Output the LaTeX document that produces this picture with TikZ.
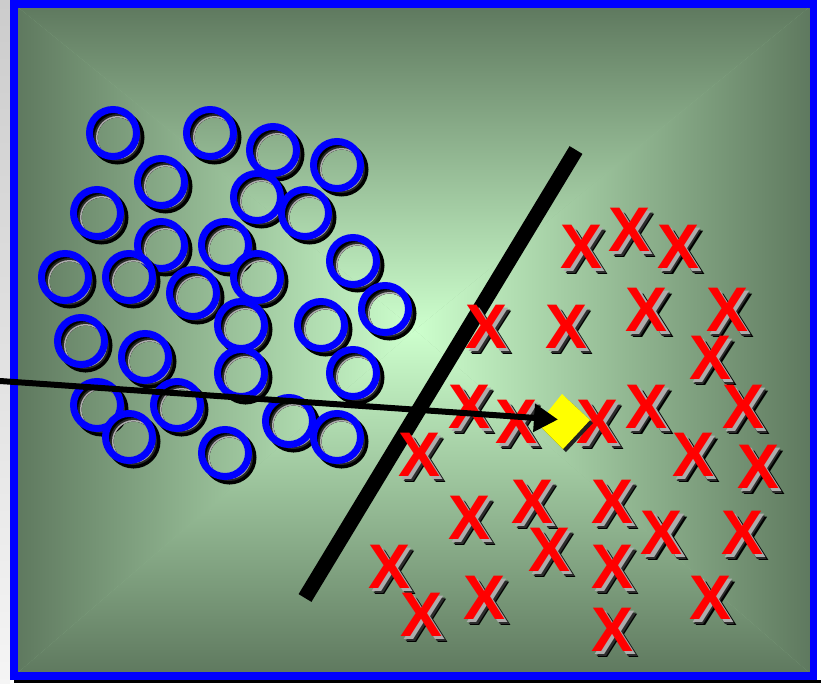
\documentclass[tikz,border=0pt]{standalone}
\usepackage{fontspec}
\setmainfont{Liberation Sans}
\usetikzlibrary{arrows.meta}
\definecolor{bgedge}{RGB}{94,120,94}
\definecolor{bgmid}{RGB}{150,190,150}
\definecolor{bgcenter}{RGB}{205,255,205}
\definecolor{ringblue}{RGB}{0,0,255}
\definecolor{xred}{RGB}{255,0,0}
\definecolor{dyellow}{RGB}{255,255,0}
\begin{document}
\begin{tikzpicture}[x=1pt,y=-1pt,
  ring/.style={draw=ringblue,line width=7pt},
  ringshA/.style={draw=black,line width=7pt},
  ringshB/.style={draw=gray!30!black,line width=3.5pt},
  ringshC/.style={draw=gray!65,line width=1.5pt},
  xlbl/.style={inner sep=0pt,outer sep=0pt,font=\fontsize{63}{63}\selectfont\bfseries},
  frameline/.style={draw=ringblue,line width=7.5pt},
  sepline/.style={draw=black,line width=15pt},
  vecline/.style={draw=black,line width=6pt,-{Triangle[length=24pt,width=27pt]}}]
\useasboundingbox (0,0) rectangle (821,683);
% outside strips
\shade[top color=gray!40,bottom color=gray!8] (0,0) rectangle (10,683);
\fill[black] (14,680) rectangle (821,683);
% background gradient (rectangular, from centre)
\coordinate (c) at (415,330);
\fill[bgmid] (14,4) rectangle (813,676);
\shade[top color=bgedge,bottom color=bgcenter] (14,4) -- (813,4) -- (c) -- cycle;
\shade[top color=bgcenter,bottom color=bgedge] (14,676) -- (813,676) -- (c) -- cycle;
\shade[left color=bgedge,right color=bgcenter] (14,4) -- (14,676) -- (c) -- cycle;
\shade[left color=bgcenter,right color=bgedge] (813,4) -- (813,676) -- (c) -- cycle;
\draw[frameline] (14,3.75) rectangle (813.5,676);
% circles
\foreach \cx/\cy in {113/133,210/133,273/150,337/165,161/182,257/197,305/213,97/213,
  161/245,225/245,353/261,65/277,129/277,257/277,193/293,385/309,241/325,321/325,
  81/341,145/357,353/373,241/373,97/405,177/405,289/421,129/437,337/437,225/453}{
  \begin{scope}[shift={(\cx,\cy)}]
    \draw[ringshA] (4.5,4.5) circle[radius=23.5pt];
    \draw[ringshB] (4.5,4.5) circle[radius=21.75pt];
    \draw[ringshC] (4.5,4.5) circle[radius=20.75pt];
    \draw[ring] (0,0) circle[radius=23.5pt];
  \end{scope}
}
% separating line
\coordinate (s1) at (305,598);
\coordinate (s2) at (576,150);
\draw[sepline] (s1) -- (s2);
% crosses
\foreach \xx/\yy [count=\i] in {630/230,582/247,678/247,647/310,727/310,487/327,567/327,
  710/358,470/407,647/407,743/407,517/422,598/422,420/455,693/455,758/467,
  533/502,613/502,470/518,662/533,742/533,550/550,390/567,613/567,
  485/598,710/598,422/615,613/630}{
  \node[xlbl,text=black] (xa\i) at (\xx+6,\yy+6) {X};
  \node[xlbl,text=gray!35!black] (xb\i) at (\xx+4.5,\yy+4.5) {X};
  \node[xlbl,text=gray!65] (xc\i) at (\xx+3,\yy+3) {X};
  \node[xlbl,text=xred] (x\i) at (\xx,\yy) {X};
}
% query point
\fill[gray!25!black] (565,397) -- (593,423) -- (566,452) -- (541,427) -- cycle;
\fill[dyellow] (562,394) -- (590,420) -- (563,449) -- (538,424) -- cycle;
\coordinate (q) at (564,421);
% vector arrow
\coordinate (a0) at (0,381);
\coordinate (a1) at (558,419.5);
\draw[vecline] (a0) -- (a1);
\end{tikzpicture}
\end{document}
